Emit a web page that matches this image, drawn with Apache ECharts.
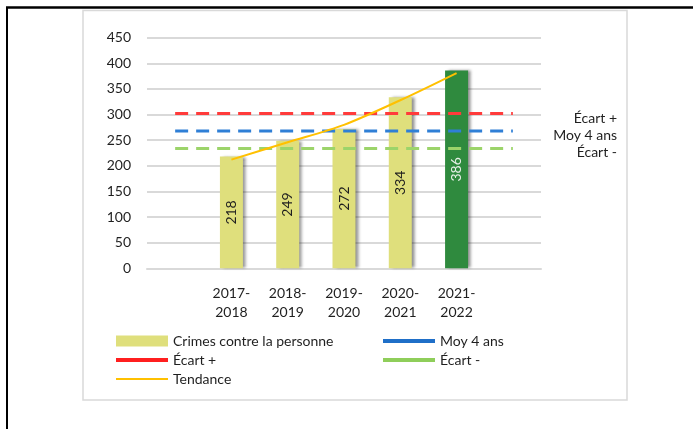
<!DOCTYPE html>
<html>
<head>
<meta charset="utf-8">
<script src="https://cdn.jsdelivr.net/npm/echarts@6/dist/echarts.min.js"></script>
<style>
html,body{margin:0;padding:0;background:#fff;}
#chart{width:693px;height:429px;}
</style>
</head>
<body>
<div id="chart"></div>
<script>
// ---- data ----
const categories = ['2017-2018', '2018-2019', '2019-2020', '2020-2021', '2021-2022'];
const crimes = [218, 249, 272, 334, 386];
const tendance = [212, 246, 280, 328, 381];
const moy4ans = 268;
const ecartPlus = 302;
const ecartMoins = 234;
const yTicks = [0, 50, 100, 150, 200, 250, 300, 350, 400, 450];

const FONT = 'Lato, "Liberation Sans", sans-serif';
const TXT = '#1f1f1f';
const YELLOW = '#dfdf7c';
const GREEN = '#2f8a3e';

// padded category axis: one empty slot on each side
const xCats = [''].concat(categories.map(c => c.replace('-', '-\n')), ['']);
const pad = arr => ['-'].concat(arr, ['-']);
const flat = v => xCats.map(() => v);

const barData = pad(crimes.map((v, i) => {
  const last = i === crimes.length - 1;
  return {
    value: v,
    itemStyle: { color: last ? GREEN : YELLOW },
    label: { color: last ? '#e8f0e8' : TXT }
  };
}));

const chart = echarts.init(document.getElementById('chart'), null, { renderer: 'canvas' });

const lineIcon = h => 'path://M0,0H52V' + h + 'H0Z';

const option = {
  animation: false,
  textStyle: { fontFamily: FONT },
  grid: { left: 147, right: 152, top: 37.7, bottom: 160.7, containLabel: false },
  xAxis: {
    type: 'category',
    data: xCats,
    boundaryGap: true,
    axisTick: { show: false },
    axisLine: { show: true, lineStyle: { color: '#d9d9d9', width: 2 } },
    axisLabel: { fontFamily: FONT, fontSize: 14, color: TXT, lineHeight: 19.5, margin: 15, interval: 0 }
  },
  yAxis: {
    type: 'value',
    min: yTicks[0],
    max: yTicks[yTicks.length - 1],
    interval: yTicks[1] - yTicks[0],
    axisLine: { show: false },
    axisTick: { show: false },
    splitLine: { lineStyle: { color: '#d9d9d9', width: 2 } },
    axisLabel: { fontFamily: FONT, fontSize: 14, color: TXT, margin: 16 }
  },
  legend: [
    {
      orient: 'vertical', left: 111, top: 329,
      itemWidth: 52, itemHeight: 11, itemGap: 5,
      textStyle: { fontFamily: FONT, fontSize: 14, color: TXT },
      data: [
        { name: 'Crimes contre la personne', icon: 'rect', itemStyle: { color: YELLOW, shadowBlur: 0, shadowOffsetX: 0 } },
        { name: 'Écart +', icon: lineIcon(4), itemStyle: { color: '#ff1f1f' }, lineStyle: { width: 0 } },
        { name: 'Tendance', icon: lineIcon(2), itemStyle: { color: '#ffc000' }, lineStyle: { width: 0 } }
      ]
    },
    {
      orient: 'vertical', left: 378, top: 329,
      itemWidth: 52, itemHeight: 11, itemGap: 5,
      textStyle: { fontFamily: FONT, fontSize: 14, color: TXT },
      data: [
        { name: 'Moy 4 ans', icon: lineIcon(4), itemStyle: { color: '#1f6fc8' }, lineStyle: { width: 0 } },
        { name: 'Écart -', icon: lineIcon(4), itemStyle: { color: '#8fce5a' }, lineStyle: { width: 0 } }
      ]
    }
  ],
  series: [
    {
      name: 'Crimes contre la personne',
      type: 'bar',
      data: barData,
      barWidth: 23,
      itemStyle: { color: YELLOW, shadowColor: 'rgba(0,0,0,0.45)', shadowBlur: 3, shadowOffsetX: 3, shadowOffsetY: 0 },
      label: { show: true, position: 'inside', rotate: 90, fontFamily: FONT, fontSize: 14, color: TXT },
      z: 2
    },
    {
      name: 'Écart +', type: 'line', data: flat(ecartPlus), symbol: 'none',
      lineStyle: { color: '#ff3b3b', width: 3, type: [13, 8] }, z: 3
    },
    {
      name: 'Moy 4 ans', type: 'line', data: flat(moy4ans), symbol: 'none',
      lineStyle: { color: '#2f7fd6', width: 3, type: [13, 8] }, z: 3
    },
    {
      name: 'Écart -', type: 'line', data: flat(ecartMoins), symbol: 'none',
      lineStyle: { color: '#9cd46a', width: 3, type: [13, 8] }, z: 3
    },
    {
      name: 'Tendance', type: 'line', data: pad(tendance), symbol: 'none', smooth: 0.3,
      lineStyle: { color: '#ffc000', width: 2 }, z: 4
    }
  ]
};

chart.setOption(option);

// frame + right-side labels
const yPx = v => chart.convertToPixel({ yAxisIndex: 0 }, v);
const sideLabels = [
  { text: 'Écart +', v: ecartPlus },
  { text: 'Moy 4 ans', v: moy4ans },
  { text: 'Écart -', v: ecartMoins }
];
const graphics = [
  { type: 'rect', shape: { x: 83, y: 10.5, width: 544, height: 389.5 }, style: { fill: 'none', stroke: '#d9d9d9', lineWidth: 1.5 }, silent: true, z: -1 },
  { type: 'line', shape: { x1: 6, y1: 7.5, x2: 693, y2: 7.5 }, style: { stroke: '#000', lineWidth: 2.5 }, silent: true },
  { type: 'line', shape: { x1: 7, y1: 7, x2: 7, y2: 429 }, style: { stroke: '#000', lineWidth: 2 }, silent: true }
].concat(sideLabels.map(s => ({
  type: 'text',
  x: 617,
  y: yPx(s.v) + 4.5,
  style: { text: s.text, fontFamily: FONT, fontSize: 14, fill: TXT, align: 'right', verticalAlign: 'middle' },
  silent: true
})));
chart.setOption({ graphic: graphics });
</script>
</body>
</html>
